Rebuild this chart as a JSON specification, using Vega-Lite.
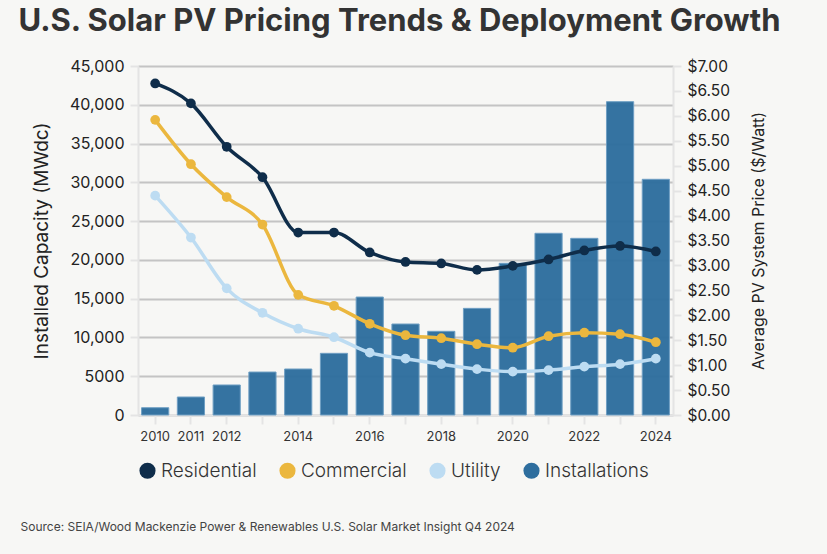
{
  "$schema": "https://vega.github.io/schema/vega-lite/v6.json",
  "background": "#f7f7f5",
  "padding": {"left": 18, "top": 6, "right": 52, "bottom": 23},
  "config": {
    "font": "Inter",
    "view": {"stroke": null}
  },
  "title": {
    "text": "Source: SEIA/Wood Mackenzie Power & Renewables U.S. Solar Market Insight Q4 2024",
    "orient": "bottom",
    "anchor": "start",
    "fontSize": 12,
    "fontWeight": "normal",
    "color": "#444444",
    "offset": 41,
    "dx": 2
  },
  "datasets": {
    "solar": [
      {"year": "2010", "installations": 940, "Residential": 6.65, "Commercial": 5.92, "Utility": 4.40},
      {"year": "2011", "installations": 2320, "Residential": 6.25, "Commercial": 5.03, "Utility": 3.56},
      {"year": "2012", "installations": 3870, "Residential": 5.38, "Commercial": 4.37, "Utility": 2.54},
      {"year": "2013", "installations": 5540, "Residential": 4.77, "Commercial": 3.82, "Utility": 2.05},
      {"year": "2014", "installations": 5930, "Residential": 3.66, "Commercial": 2.41, "Utility": 1.73},
      {"year": "2015", "installations": 7950, "Residential": 3.66, "Commercial": 2.19, "Utility": 1.56},
      {"year": "2016", "installations": 15210, "Residential": 3.26, "Commercial": 1.83, "Utility": 1.25},
      {"year": "2017", "installations": 11730, "Residential": 3.07, "Commercial": 1.60, "Utility": 1.13},
      {"year": "2018", "installations": 10790, "Residential": 3.04, "Commercial": 1.54, "Utility": 1.02},
      {"year": "2019", "installations": 13750, "Residential": 2.91, "Commercial": 1.42, "Utility": 0.92},
      {"year": "2020", "installations": 19560, "Residential": 2.99, "Commercial": 1.35, "Utility": 0.87},
      {"year": "2021", "installations": 23430, "Residential": 3.12, "Commercial": 1.58, "Utility": 0.90},
      {"year": "2022", "installations": 22780, "Residential": 3.30, "Commercial": 1.65, "Utility": 0.97},
      {"year": "2023", "installations": 40400, "Residential": 3.39, "Commercial": 1.62, "Utility": 1.02},
      {"year": "2024", "installations": 30390, "Residential": 3.28, "Commercial": 1.46, "Utility": 1.13}
    ]
  },
  "vconcat": [
    {
      "title": {
        "text": "U.S. Solar PV Pricing Trends & Deployment Growth",
        "anchor": "start",
        "fontSize": 31,
        "fontWeight": "bold",
        "color": "#333333",
        "offset": 20,
        "dx": -14
      },
      "width": 535,
      "height": 349,
      "data": {"name": "solar"},
      "encoding": {
        "x": {
          "field": "year",
          "type": "ordinal",
          "scale": {"paddingInner": 0.24, "paddingOuter": 0.1},
          "axis": {
            "title": null,
            "labelAngle": 0,
            "labelFontSize": 13,
            "labelColor": "#333333",
            "labelPadding": 6,
            "tickColor": "#e4e4e4",
            "tickWidth": 2,
            "tickSize": 9,
            "domainColor": "#e4e4e4",
            "domainWidth": 2,
            "labelExpr": "indexof(['2010','2011','2012','2014','2016','2018','2020','2022','2024'], datum.value) >= 0 ? datum.value : ''"
          }
        }
      },
      "layer": [
        {
          "mark": {"type": "bar", "opacity": 0.96, "stroke": "#6a9cc2", "strokeWidth": 1},
          "encoding": {
            "y": {
              "field": "installations",
              "type": "quantitative",
              "scale": {"domain": [0, 45000]},
              "axis": {
                "title": "Installed Capacity (MWdc)",
                "titleFontSize": 19,
                "titleFontWeight": "normal",
                "titleColor": "#222222",
                "titlePadding": 18,
                "values": [0, 5000, 10000, 15000, 20000, 25000, 30000, 35000, 40000, 45000],
                "labelExpr": "datum.value == 5000 ? '5000' : format(datum.value, ',')",
                "labelFontSize": 16,
                "labelColor": "#222222",
                "labelPadding": 6,
                "tickColor": "#e4e4e4",
                "tickWidth": 2,
                "tickSize": 8,
                "domainColor": "#e4e4e4",
                "domainWidth": 2,
                "grid": true,
                "gridColor": "#c4c4c4",
                "gridWidth": 2
              }
            },
            "color": {
              "datum": "Installations",
              "type": "nominal",
              "title": null,
              "scale": {
                "domain": ["Residential", "Commercial", "Utility", "Installations"],
                "range": ["#0f2d4a", "#ebb73e", "#bddcf2", "#2e6e9e"]
              },
              "legend": {
                "title": null,
                "orient": "bottom",
                "direction": "horizontal",
                "symbolType": "circle",
                "symbolSize": 260,
                "symbolOpacity": 1,
                "symbolStrokeWidth": 0,
                "labelFontSize": 19,
                "labelColor": "#333333",
                "labelFontWeight": 300,
                "columnPadding": 21,
                "offset": 18
              }
            }
          }
        },
        {
          "transform": [
            {"fold": ["Residential", "Commercial", "Utility"], "as": ["series", "price"]}
          ],
          "layer": [
            {"mark": {"type": "line", "interpolate": "monotone", "strokeWidth": 3.5}},
            {"mark": {"type": "point", "filled": true, "size": 95, "opacity": 1}}
          ],
          "encoding": {
            "y": {
              "field": "price",
              "type": "quantitative",
              "scale": {"domain": [0, 7]},
              "axis": {
                "orient": "right",
                "title": "Average PV System Price ($/Watt)",
                "titleAngle": 270,
                "titleBaseline": "top",
                "titleFontSize": 16,
                "titleFontWeight": "normal",
                "titleColor": "#222222",
                "titlePadding": 20,
                "values": [0, 0.5, 1, 1.5, 2, 2.5, 3, 3.5, 4, 4.5, 5, 5.5, 6, 6.5, 7],
                "format": "$.2f",
                "labelFontSize": 15.5,
                "labelColor": "#222222",
                "labelPadding": 6,
                "tickColor": "#e4e4e4",
                "tickWidth": 2,
                "tickSize": 8,
                "domainColor": "#e4e4e4",
                "domainWidth": 2,
                "grid": false
              }
            },
            "color": {
              "field": "series",
              "type": "nominal",
              "title": null,
              "scale": {
                "domain": ["Residential", "Commercial", "Utility", "Installations"],
                "range": ["#0f2d4a", "#ebb73e", "#bddcf2", "#2e6e9e"]
              }
            }
          }
        }
      ],
      "resolve": {"scale": {"y": "independent"}}
    }
  ]
}
